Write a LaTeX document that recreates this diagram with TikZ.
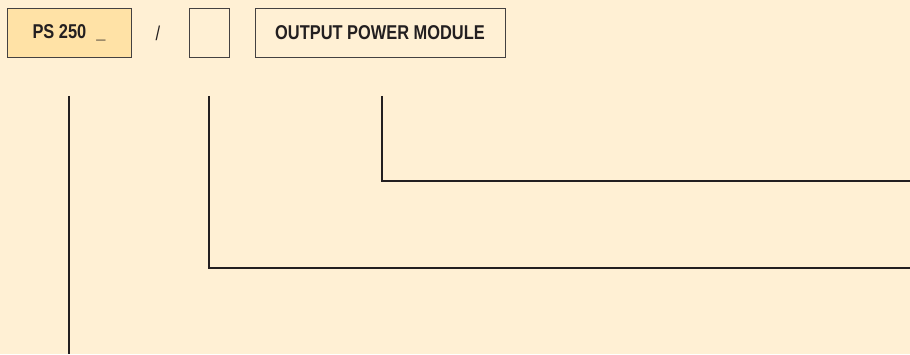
\documentclass[tikz,border=0pt]{standalone}
\usepackage{fontspec}
\setmainfont{Liberation Sans}[FakeStretch=0.82]
\usetikzlibrary{positioning}
\definecolor{bgcream}{HTML}{FFF0D4}
\definecolor{codefill}{HTML}{FFE2A6}
\definecolor{inkdark}{HTML}{231F20}

\begin{document}
\begin{tikzpicture}[x=1pt, y=-1pt,
      field/.style={draw=inkdark!85, line width=0.9pt, minimum height=49pt, inner sep=0pt,
        font=\bfseries\fontsize{20}{22}\selectfont, text=inkdark},
      link/.style={line width=2pt, draw=inkdark}
    ]
      % Background and page size
      \fill[bgcream] (0,0) rectangle (910,354);
      \useasboundingbox (0,0) rectangle (910,354);

      % Order code fields
      \node[field, fill=codefill, minimum width=124pt] (series) at (69,33) {PS 250\hspace{10pt}\_};
      \node[font=\fontsize{20}{22}\selectfont, text=inkdark] (slash) at (158,33) {/};
      \node[field, minimum width=40pt] (option) at (209,33) {};
      \node[field, minimum width=250pt] (module) at (380,33) {OUTPUT POWER MODULE};

      % Free ends on the right and bottom edges
      \coordinate (module_end) at (910,181);
      \coordinate (option_end) at (910,268);
      \coordinate (series_end) at (69,354);

      % Connectors
      \draw[link] ([xshift=2pt, yshift=-38pt]module.south) |- (module_end);
      \draw[link] ([yshift=-38pt]option.south) |- (option_end);
      \draw[link] ([yshift=-38pt]series.south) -- (series_end);
    \end{tikzpicture}
\end{document}
